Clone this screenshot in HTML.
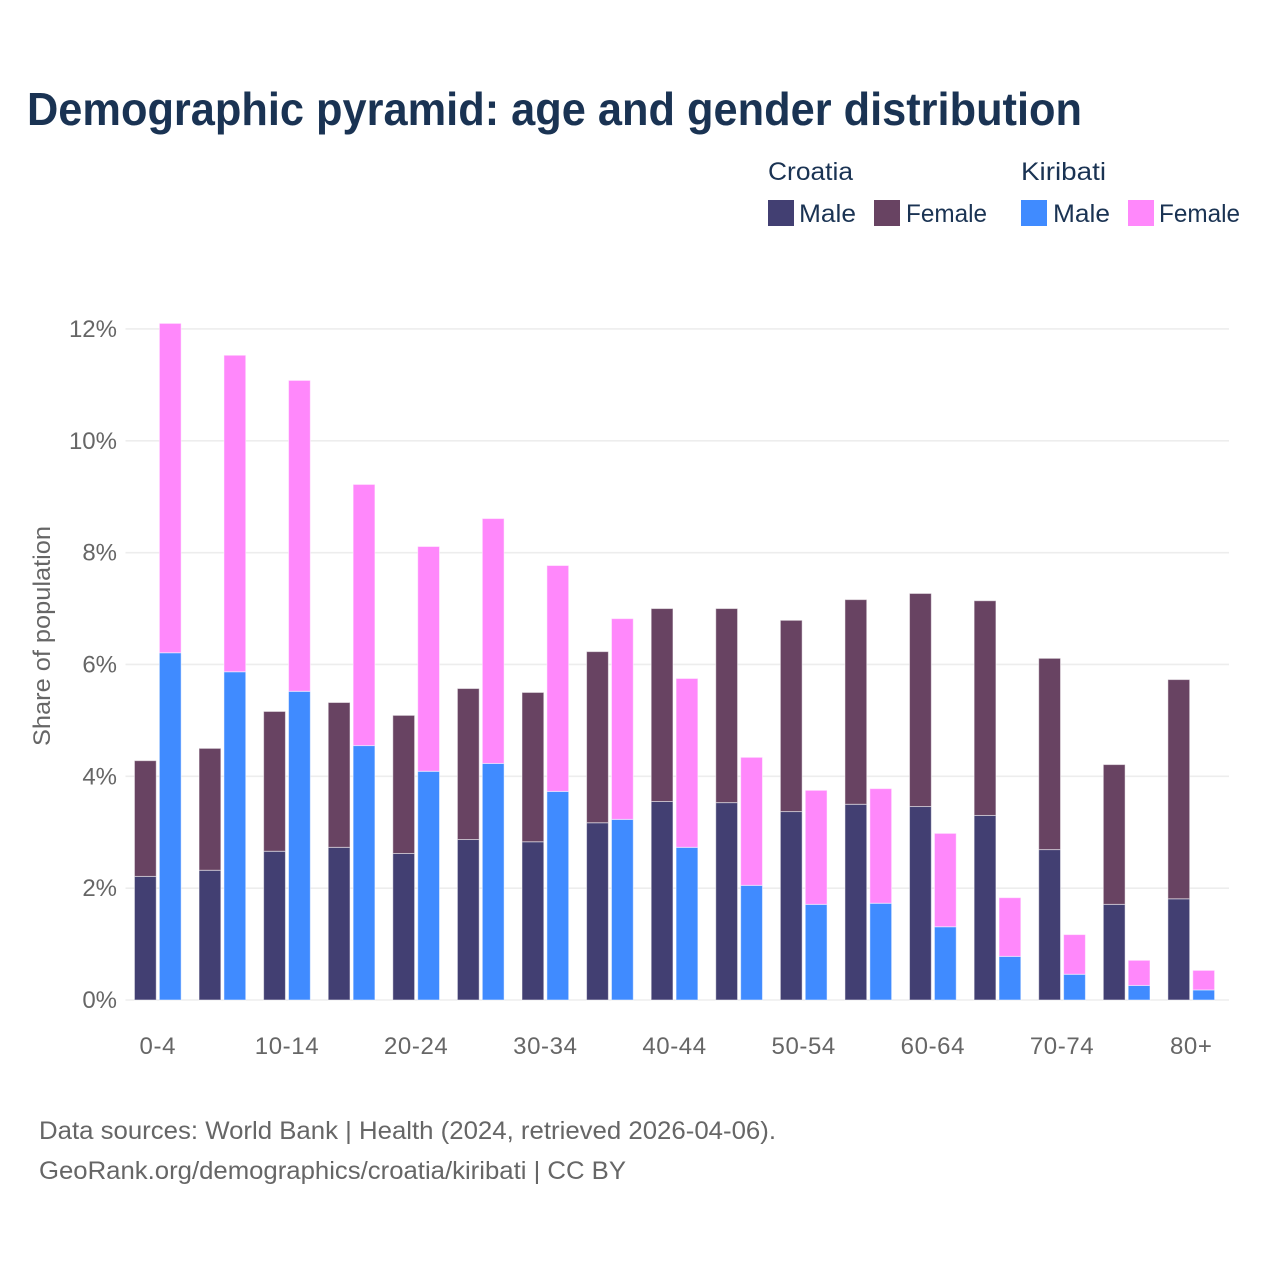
<!DOCTYPE html>
<html lang="en">
<head>
<meta charset="utf-8">
<title>Demographic pyramid</title>
<style>
  html, body { margin: 0; padding: 0; background: #fff; }
  svg { display: block; font-family: "Liberation Sans", sans-serif; }
  .legend { font-size: 25px; fill: #1a3353; }
  .tick { font-size: 24px; fill: #666; }
  .foot { font-size: 25px; fill: #666; }
</style>
</head>
<body>
<svg id="chart" xmlns="http://www.w3.org/2000/svg" width="1280" height="1280" viewBox="0 0 1280 1280">
  <rect width="1280" height="1280" fill="#fff"/>
  <text x="27" y="125" font-size="46" font-weight="700" fill="#1a3353" textLength="1055" lengthAdjust="spacingAndGlyphs">Demographic pyramid: age and gender distribution</text>

  <g>
    <text class="legend" x="768" y="180" textLength="85" lengthAdjust="spacingAndGlyphs">Croatia</text>
    <text class="legend" x="1021" y="180" textLength="85" lengthAdjust="spacingAndGlyphs">Kiribati</text>
    <rect x="768" y="200" width="26" height="26" fill="#423f72"/>
    <text class="legend" x="799" y="222" textLength="57" lengthAdjust="spacingAndGlyphs">Male</text>
    <rect x="874" y="200" width="26" height="26" fill="#684362"/>
    <text class="legend" x="906" y="222" textLength="81" lengthAdjust="spacingAndGlyphs">Female</text>
    <rect x="1021" y="200" width="26" height="26" fill="#408bff"/>
    <text class="legend" x="1053" y="222" textLength="57" lengthAdjust="spacingAndGlyphs">Male</text>
    <rect x="1128" y="200" width="26" height="26" fill="#ff88fb"/>
    <text class="legend" x="1159" y="222" textLength="81" lengthAdjust="spacingAndGlyphs">Female</text>
  </g>

  <g id="grid"></g>
  <g id="yticks"></g>
  <g id="bars"></g>
  <g id="xticks"></g>

  <text class="tick" transform="translate(50,636) rotate(-90)" text-anchor="middle" textLength="220" lengthAdjust="spacingAndGlyphs">Share of population</text>

  <text class="foot" x="39" y="1139" textLength="737" lengthAdjust="spacingAndGlyphs">Data sources: World Bank | Health (2024, retrieved 2026-04-06).</text>
  <text class="foot" x="39" y="1179" textLength="587" lengthAdjust="spacingAndGlyphs">GeoRank.org/demographics/croatia/kiribati | CC BY</text>
</svg>
<script>
const ageGroups = ["0-4","5-9","10-14","15-19","20-24","25-29","30-34","35-39","40-44","45-49","50-54","55-59","60-64","65-69","70-74","75-79","80+"];
const croatiaMale = [2.21,2.32,2.66,2.73,2.62,2.87,2.83,3.17,3.55,3.53,3.37,3.50,3.46,3.30,2.69,1.71,1.81];
const croatiaFemale = [2.07,2.18,2.50,2.59,2.47,2.70,2.67,3.06,3.45,3.47,3.42,3.66,3.81,3.84,3.42,2.50,3.92];
const kiribatiMale = [6.21,5.87,5.52,4.55,4.09,4.23,3.73,3.23,2.73,2.05,1.71,1.73,1.31,0.78,0.46,0.26,0.18];
const kiribatiFemale = [5.89,5.66,5.56,4.67,4.02,4.38,4.04,3.59,3.02,2.29,2.04,2.05,1.67,1.05,0.71,0.45,0.35];
const yTickValues = [0,2,4,6,8,10,12];
const xTickLabels = ["0-4","10-14","20-24","30-34","40-44","50-54","60-64","70-74","80+"];

const NS = "http://www.w3.org/2000/svg";
const plotLeft = 125.5, plotRight = 1229, plotBottom = 1000, pxPerUnit = 55.92;
const firstCenter = 157.8, groupStep = 64.59, barWidth = 21.8, barOffset = 12.45;
const yScale = function (v) { return plotBottom - v * pxPerUnit; };
const xScale = function (i) { return firstCenter + i * groupStep; };

function make(tag, attrs, parent) {
  const el = document.createElementNS(NS, tag);
  for (const k in attrs) el.setAttribute(k, attrs[k]);
  parent.appendChild(el);
  return el;
}

const grid = document.getElementById("grid");
const yticks = document.getElementById("yticks");
yTickValues.forEach(function (v) {
  const line = make("line", {x1: plotLeft, x2: plotRight, y1: yScale(v), y2: yScale(v), stroke: "#ededed", "stroke-width": 1.6}, grid);
  
  
  const t = make("text", {x: 117, y: yScale(v) + 8, "text-anchor": "end", "class": "tick"}, yticks);
  
  
  t.textContent = v + "%";
});

const bars = document.getElementById("bars");
function drawBar(x, base, value, fill) {
  const rect = make("rect", {
    x: x - barWidth / 2, y: yScale(base + value), width: barWidth,
    height: value * pxPerUnit, fill: fill,
    stroke: "#fff", "stroke-opacity": 0.5, "stroke-width": 1
  }, bars);
  
  
}
ageGroups.forEach(function (g, i) {
  const c = xScale(i);
  drawBar(c - barOffset, 0, croatiaMale[i], "#423f72");
  drawBar(c - barOffset, croatiaMale[i], croatiaFemale[i], "#684362");
  drawBar(c + barOffset, 0, kiribatiMale[i], "#408bff");
  drawBar(c + barOffset, kiribatiMale[i], kiribatiFemale[i], "#ff88fb");
});

const xticks = document.getElementById("xticks");
xTickLabels.forEach(function (label) {
  const t = make("text", {x: xScale(ageGroups.indexOf(label)), y: 1054, "text-anchor": "middle", "class": "tick", "letter-spacing": 0.6}, xticks);
  
  
  t.textContent = label;
});
</script>
</body>
</html>
